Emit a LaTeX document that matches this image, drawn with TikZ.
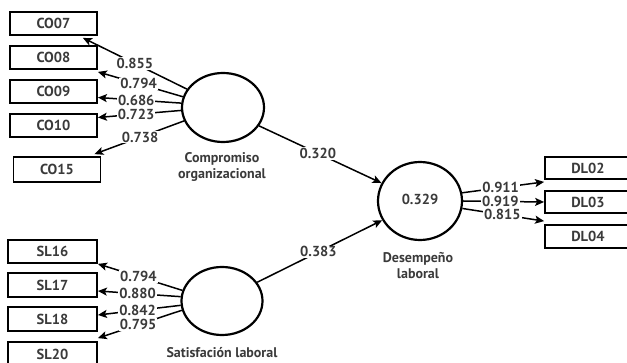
\documentclass[tikz,border=0pt]{standalone}
\usepackage{fontspec}
\setmainfont{PT Sans}
\usetikzlibrary{arrows.meta,calc,shapes.geometric}
\definecolor{txt}{HTML}{3A3A3A}
\tikzset{
  ind/.style={draw=black, line width=1.8pt, minimum width=87pt, minimum height=23pt, inner sep=0pt, font=\bfseries\fontsize{14.5}{14.5}\selectfont, text=txt},
  lat/.style={ellipse, draw=black, line width=2.2pt, inner sep=0pt},
  lab/.style={fill=white, inner sep=1pt, font=\bfseries\fontsize{14.5}{14.5}\selectfont, text=txt},
  latlab/.style={align=center, font=\bfseries\fontsize{14}{16}\selectfont, text=txt},
  arr/.style={line width=1.5pt, -{Stealth[length=9pt,width=8pt,inset=2pt]}},
}
\begin{document}
\begin{tikzpicture}[x=1pt,y=-1pt]
\useasboundingbox (0,0) rectangle (627,363);
\clip (0,0) rectangle (627,363);
% indicator boxes
\node[ind] (co07) at (53.5,23.5) {CO07};
\node[ind] (co08) at (53.5,57.5) {CO08};
\node[ind] (co09) at (53.5,91.5) {CO09};
\node[ind] (co10) at (53.5,125.5) {CO10};
\node[ind, minimum height=25pt] (co15) at (57,169.5) {CO15};
\node[ind, minimum width=89pt] (sl16) at (52.5,251.5) {SL16};
\node[ind, minimum width=89pt, minimum height=24pt] (sl17) at (52.5,285) {SL17};
\node[ind, minimum width=89pt, minimum height=24pt] (sl18) at (52.5,319) {SL18};
\node[ind, minimum width=89pt, minimum height=24pt] (sl20) at (52.5,354) {SL20};
\node[ind, minimum width=86pt, minimum height=22pt] (dl02) at (588,168) {DL02};
\node[ind, minimum width=86pt, minimum height=22pt] (dl03) at (588,202) {DL03};
\node[ind, minimum width=86pt, minimum height=23pt] (dl04) at (588,236.5) {DL04};
% latent variables
\node[lat, minimum width=82pt, minimum height=69pt] (co) at (223,107.5) {};
\node[lat, minimum width=81pt, minimum height=68pt] (sl) at (222,301) {};
\node[lat, minimum width=84pt, minimum height=78pt, font=\bfseries\fontsize{14.5}{14.5}\selectfont, text=txt] (dl) at (420,201) {\raisebox{4pt}{0.329}};
\node[latlab] (colab) at (222,167) {Compromiso\\organizacional};
\node[latlab] (dllab) at (418,266) {Desempeño\\laboral};
\node[latlab] (sllab) at (222,353) {Satisfación laboral};
% outer loadings CO
\draw[arr] (co.153) -- node[lab,pos=0.5]{0.855} ([xshift=-15pt,yshift=-2pt]co07.south east);
\draw[arr] (co.165) -- node[lab,pos=0.52]{0.794} ([yshift=-2pt]co08.south east);
\draw[arr] (co.174) -- node[lab,pos=0.54]{0.686} ([yshift=-6pt]co09.east);
\draw[arr] (co.184) -- node[lab,pos=0.54]{0.723} ([yshift=8pt]co10.east);
\draw[arr] (co.199) -- node[lab,pos=0.49]{0.738} ([xshift=-7pt,yshift=2pt]co15.north east);
% outer loadings SL
\draw[arr] (sl.165) -- node[lab,pos=0.52]{0.794} (sl16.south east);
\draw[arr] (sl.174) -- node[lab,pos=0.52]{0.880} ([yshift=-6pt]sl17.east);
\draw[arr] (sl.186) -- node[lab,pos=0.52]{0.842} ([yshift=4pt]sl18.east);
\draw[arr] (sl.193) -- node[lab,pos=0.52]{0.795} ([yshift=3pt]sl20.north east);
% outer loadings DL
\draw[arr] (dl.11) -- node[lab,pos=0.47]{0.911} ([yshift=-2pt]dl02.south west);
\draw[arr] (dl.0) -- node[lab,pos=0.46]{0.919} (dl03.west);
\draw[arr] (dl.-10) -- node[lab,pos=0.49]{0.815} ([yshift=3pt]dl04.north west);
% structural paths
\draw[arr] (co.-27) -- node[lab,pos=0.48]{0.320} (dl.155);
\draw[arr] (sl.28) -- node[lab,pos=0.49]{0.383} (dl.207);
\end{tikzpicture}
\end{document}
